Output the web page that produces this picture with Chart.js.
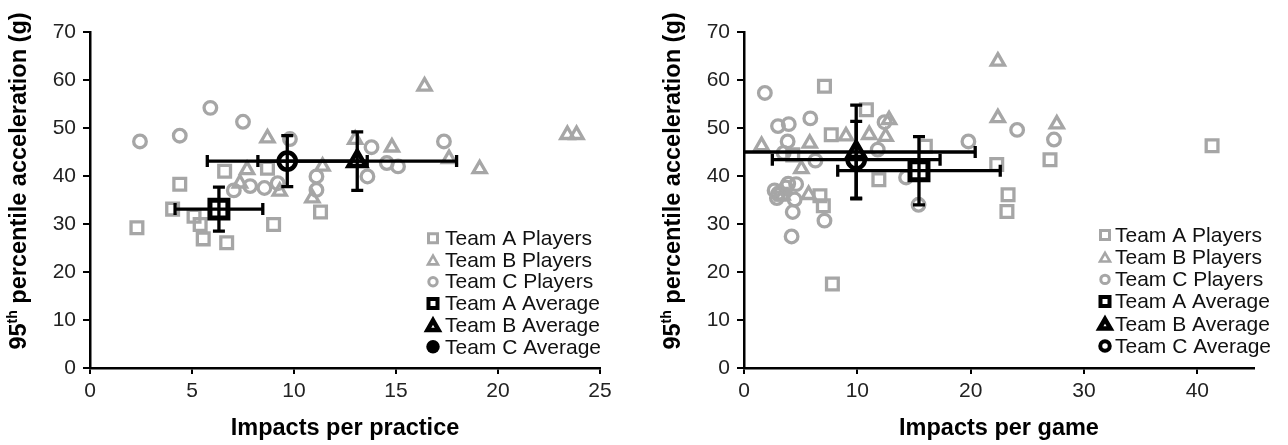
<!DOCTYPE html>
<html>
<head>
<meta charset="utf-8">
<script src="https://cdn.jsdelivr.net/npm/chart.js@4"></script>
<style>
  html, body { margin: 0; padding: 0; background: #fff; }
  #wrap { position: relative; width: 1288px; height: 445px; overflow: hidden; }
  canvas { position: absolute; top: 0; }
  #practice { left: 0; }
  #game { left: 644px; }
</style>
</head>
<body>
<div id="wrap">
  <canvas id="practice" width="644" height="445"></canvas>
  <canvas id="game" width="644" height="445"></canvas>
</div>
<script>
// ---- data: impacts per session vs. 95th percentile acceleration (g) ----
const legendLabels = ['Team A Players', 'Team B Players', 'Team C Players',
                      'Team A Average', 'Team B Average', 'Team C Average'];
const yTicks = [0, 10, 20, 30, 40, 50, 60, 70];
const practiceTicks = [0, 5, 10, 15, 20, 25];
const gameTicks = [0, 10, 20, 30, 40];

// practices
const practiceTeamA = [
  {x: 2.3, y: 29.2}, {x: 4.05, y: 33.1}, {x: 4.4, y: 38.3}, {x: 5.1, y: 31.6},
  {x: 5.4, y: 29.9}, {x: 5.55, y: 26.9}, {x: 6.6, y: 41.0}, {x: 6.7, y: 26.1},
  {x: 8.7, y: 41.6}, {x: 9.0, y: 29.9}, {x: 11.3, y: 32.5}
];
const practiceTeamB = [
  {x: 7.35, y: 38.5}, {x: 7.7, y: 41.3}, {x: 8.7, y: 47.9}, {x: 9.3, y: 36.8},
  {x: 10.9, y: 35.4}, {x: 11.4, y: 42.0}, {x: 13.0, y: 47.6}, {x: 14.8, y: 46.0},
  {x: 16.4, y: 58.7}, {x: 17.6, y: 43.6}, {x: 19.1, y: 41.5}, {x: 23.4, y: 48.6},
  {x: 23.85, y: 48.6}
];
const practiceTeamC = [
  {x: 2.45, y: 47.2}, {x: 4.4, y: 48.4}, {x: 5.9, y: 54.2}, {x: 7.5, y: 51.3},
  {x: 9.8, y: 47.7}, {x: 7.05, y: 37.0}, {x: 7.85, y: 37.9}, {x: 8.55, y: 37.5},
  {x: 9.2, y: 38.5}, {x: 11.1, y: 39.9}, {x: 11.1, y: 37.1}, {x: 13.8, y: 46.0},
  {x: 13.6, y: 39.9}, {x: 14.55, y: 42.7}, {x: 15.1, y: 42.0}, {x: 17.35, y: 47.2}
];
// team means with one standard deviation in each direction
const practiceAverages = [
  {x: 6.32, y: 33.1, sdX: 2.15, sdY: 4.6},
  {x: 13.1, y: 43.1, sdX: 4.87, sdY: 6.1},
  {x: 9.67, y: 43.1, sdX: 3.92, sdY: 5.3}
];

// games
const gameTeamA = [
  {x: 7.1, y: 58.7}, {x: 7.7, y: 48.6}, {x: 4.3, y: 44.4}, {x: 3.3, y: 36.2},
  {x: 6.7, y: 35.9}, {x: 7.0, y: 33.8}, {x: 7.8, y: 17.5}, {x: 10.8, y: 53.8},
  {x: 11.9, y: 39.2}, {x: 16.0, y: 46.2}, {x: 22.3, y: 42.4}, {x: 23.3, y: 36.1},
  {x: 23.2, y: 32.6}, {x: 27.0, y: 43.4}, {x: 41.3, y: 46.3}
];
const gameTeamB = [
  {x: 1.55, y: 46.3}, {x: 5.8, y: 46.8}, {x: 5.06, y: 41.5}, {x: 5.7, y: 36.1},
  {x: 9.0, y: 48.3}, {x: 11.05, y: 48.6}, {x: 12.5, y: 48.2}, {x: 12.8, y: 51.7},
  {x: 22.4, y: 63.9}, {x: 22.4, y: 52.1}, {x: 27.6, y: 50.8}, {x: 3.4, y: 36.0}
];
const gameTeamC = [
  {x: 1.84, y: 57.3}, {x: 3.0, y: 50.4}, {x: 3.95, y: 50.8}, {x: 5.85, y: 52.0},
  {x: 3.85, y: 47.2}, {x: 6.3, y: 43.2}, {x: 3.5, y: 44.8}, {x: 4.6, y: 38.3},
  {x: 4.47, y: 35.1}, {x: 4.3, y: 32.5}, {x: 4.2, y: 27.4}, {x: 7.1, y: 30.7},
  {x: 12.4, y: 51.2}, {x: 11.8, y: 45.5}, {x: 14.3, y: 39.7}, {x: 15.4, y: 34.0},
  {x: 19.8, y: 47.2}, {x: 24.1, y: 49.6}, {x: 27.35, y: 47.6}, {x: 2.7, y: 37.0},
  {x: 3.0, y: 36.3}, {x: 3.7, y: 37.6}, {x: 3.9, y: 38.4}, {x: 2.9, y: 35.4}
];
const gameAverages = [
  {x: 15.44, y: 41.1, sdX: 7.17, sdY: 7.1},
  {x: 9.9, y: 45.0, sdX: 10.5, sdY: 9.75},
  {x: 9.9, y: 43.4, sdX: 7.4, sdY: 8.0}
];

// ---- styling ----
const GRAY = '#a6a6a6';
const INK = '#000000';
const FONT = "'Liberation Sans', Arial, Helvetica, sans-serif";
const NOFILL = 'rgba(0,0,0,0)';

function drawMarker(ctx, m, x, y) {
  ctx.save();
  ctx.beginPath();
  const s = m.size;
  if (m.style === 'rect') {
    ctx.rect(x - s / 2, y - s / 2, s, s);
  } else if (m.style === 'circle') {
    ctx.arc(x, y, s / 2, 0, Math.PI * 2);
  } else {
    const h = s * 0.87;
    ctx.moveTo(x, y - h / 2);
    ctx.lineTo(x + s / 2, y + h / 2);
    ctx.lineTo(x - s / 2, y + h / 2);
    ctx.closePath();
  }
  if (m.fill) { ctx.fillStyle = m.fill; ctx.fill(); }
  if (m.lw) { ctx.lineWidth = m.lw; ctx.strokeStyle = m.stroke; ctx.lineJoin = 'miter'; ctx.stroke(); }
  ctx.restore();
}

function drawErrorBars(chart, avgs) {
  const {ctx, chartArea: a} = chart;
  const xs = chart.scales.x, ys = chart.scales.y;
  const cap = 6;
  ctx.save();
  ctx.strokeStyle = INK;
  ctx.lineWidth = 3.3;
  avgs.forEach(p => {
    const cx = xs.getPixelForValue(p.x), cy = ys.getPixelForValue(p.y);
    const x0 = xs.getPixelForValue(p.x - p.sdX), x1 = xs.getPixelForValue(p.x + p.sdX);
    const y0 = ys.getPixelForValue(p.y - p.sdY), y1 = ys.getPixelForValue(p.y + p.sdY);
    ctx.beginPath();
    ctx.moveTo(Math.max(x0, a.left), cy);
    ctx.lineTo(Math.min(x1, a.right), cy);
    if (x0 >= a.left) { ctx.moveTo(x0, cy - cap); ctx.lineTo(x0, cy + cap); }
    if (x1 <= a.right) { ctx.moveTo(x1, cy - cap); ctx.lineTo(x1, cy + cap); }
    ctx.moveTo(cx, y0); ctx.lineTo(cx, y1);
    ctx.moveTo(cx - cap, y0); ctx.lineTo(cx + cap, y0);
    ctx.moveTo(cx - cap, y1); ctx.lineTo(cx + cap, y1);
    ctx.stroke();
  });
  ctx.restore();
}

function drawTitles(chart, cfg) {
  const ctx = chart.ctx;
  ctx.save();
  ctx.fillStyle = INK;
  ctx.textBaseline = 'middle';
  // vertical title with superscript "th"
  const big = 'bold 23.5px ' + FONT, small = 'bold 14px ' + FONT;
  const parts = [['95', big, 0], ['th', small, -7], [' percentile acceleration (g)', big, 0]];
  let total = 0;
  parts.forEach(p => { ctx.font = p[1]; p.push(ctx.measureText(p[0]).width); total += p[3]; });
  ctx.translate(cfg.yTitleX, cfg.yTitleY);
  ctx.rotate(-Math.PI / 2);
  ctx.textAlign = 'left';
  let cur = -total / 2;
  parts.forEach(p => { ctx.font = p[1]; ctx.fillText(p[0], cur, p[2]); cur += p[3]; });
  ctx.setTransform(1, 0, 0, 1, 0, 0);
  // horizontal title centred on the plot area
  const a = chart.chartArea;
  ctx.font = big;
  ctx.textAlign = 'center';
  ctx.fillText(cfg.xTitle, (a.left + a.right) / 2, cfg.xTitleY);
  ctx.restore();
}

function drawLegend(chart, cfg) {
  const ctx = chart.ctx;
  ctx.save();
  ctx.font = '21px ' + FONT;
  ctx.textBaseline = 'middle';
  ctx.textAlign = 'left';
  legendLabels.forEach((label, i) => {
    const y = cfg.legendTop + i * cfg.legendStep;
    drawMarker(ctx, cfg.legendMarkers[i], cfg.legendX, y);
    ctx.fillStyle = '#111';
    ctx.fillText(label, cfg.legendX + cfg.legendGap, y + 1);
  });
  ctx.restore();
}

function extras(cfg) {
  return {
    id: 'extras',
    afterDatasetsDraw(chart) {
      drawErrorBars(chart, cfg.averages);
      drawTitles(chart, cfg);
      drawLegend(chart, cfg);
    }
  };
}

function playerSet(label, data, style, radius, order) {
  return {
    label, data, pointStyle: style, pointRadius: radius, pointHoverRadius: radius,
    pointBorderWidth: 3.3, pointBorderColor: GRAY, pointBackgroundColor: NOFILL,
    showLine: false, order
  };
}

function averageSet(label, point, style, radius, border, fill, order) {
  return {
    label, data: [{x: point.x, y: point.y}], pointStyle: style, pointRadius: radius,
    pointHoverRadius: radius, pointBorderWidth: border, pointBorderColor: INK,
    pointBackgroundColor: fill, showLine: false, order
  };
}

function axes(xMax, xTicks, yWidth) {
  const tickFont = {family: FONT, size: 21};
  return {
    x: {
      type: 'linear', min: 0, max: xMax,
      afterBuildTicks: s => { s.ticks = xTicks.map(v => ({value: v})); },
      afterFit: s => { s.height = 77; },
      ticks: {font: tickFont, color: '#222', padding: 5, maxRotation: 0, autoSkip: false},
      grid: {drawOnChartArea: false, drawTicks: true, tickLength: 6, color: INK, lineWidth: 2},
      border: {color: INK, width: 2.5}
    },
    y: {
      type: 'linear', min: 0, max: 70,
      afterBuildTicks: s => { s.ticks = yTicks.map(v => ({value: v})); },
      afterFit: s => { s.width = yWidth; },
      ticks: {font: tickFont, color: '#222', padding: 7, autoSkip: false},
      grid: {drawOnChartArea: false, drawTicks: true, tickLength: 7, color: INK, lineWidth: 2},
      border: {color: INK, width: 2.5}
    }
  };
}

const grayLegend = [
  {style: 'rect', size: 9, lw: 3, stroke: GRAY},
  {style: 'triangle', size: 10, lw: 2.6, stroke: GRAY},
  {style: 'circle', size: 8.4, lw: 3, stroke: GRAY}
];

// left panel: practices
new Chart(document.getElementById('practice'), {
  type: 'scatter',
  data: {
    datasets: [
      averageSet('Team B Average', practiceAverages[1], 'triangle', 10, 4.5, '#fff', 0),
      averageSet('Team C Average', practiceAverages[2], 'circle', 8.6, 4.5, '#fff', 1),
      averageSet('Team A Average', practiceAverages[0], 'rect', 12.7, 5, '#fff', 2),
      playerSet('Team C Players', practiceTeamC, 'circle', 6.3, 3),
      playerSet('Team B Players', practiceTeamB, 'triangle', 7.6, 4),
      playerSet('Team A Players', practiceTeamA, 'rect', 8.3, 5)
    ]
  },
  options: {
    responsive: false, animation: false, events: [],
    layout: {padding: {top: 32, right: 44, bottom: 0, left: 0}},
    plugins: {legend: {display: false}, tooltip: {enabled: false}},
    scales: axes(25, practiceTicks, 90)
  },
  plugins: [extras({
    averages: practiceAverages,
    xTitle: 'Impacts per practice', xTitleY: 429,
    yTitleX: 20, yTitleY: 181,
    legendX: 433, legendGap: 12, legendTop: 238.3, legendStep: 21.7,
    legendMarkers: grayLegend.concat([
      {style: 'rect', size: 9, lw: 4, stroke: INK, fill: '#fff'},
      {style: 'triangle', size: 11, lw: 4.5, stroke: INK, fill: '#fff'},
      {style: 'circle', size: 13.5, fill: INK}
    ])
  })]
});

// right panel: games
new Chart(document.getElementById('game'), {
  type: 'scatter',
  data: {
    datasets: [
      averageSet('Team B Average', gameAverages[1], 'triangle', 10, 4.5, '#fff', 0),
      averageSet('Team C Average', gameAverages[2], 'circle', 8.6, 4.5, '#fff', 1),
      averageSet('Team A Average', gameAverages[0], 'rect', 12.7, 5, '#fff', 2),
      playerSet('Team C Players', gameTeamC, 'circle', 6.3, 3),
      playerSet('Team B Players', gameTeamB, 'triangle', 7.6, 4),
      playerSet('Team A Players', gameTeamA, 'rect', 8.3, 5)
    ]
  },
  options: {
    responsive: false, animation: false, events: [],
    layout: {padding: {top: 32, right: 34, bottom: 0, left: 0}},
    plugins: {legend: {display: false}, tooltip: {enabled: false}},
    scales: axes(45, gameTicks, 100)
  },
  plugins: [extras({
    averages: gameAverages,
    xTitle: 'Impacts per game', xTitleY: 429,
    yTitleX: 30, yTitleY: 181,
    legendX: 461, legendGap: 10, legendTop: 235, legendStep: 22.2,
    legendMarkers: grayLegend.concat([
      {style: 'rect', size: 9, lw: 4, stroke: INK, fill: '#fff'},
      {style: 'triangle', size: 11, lw: 4.5, stroke: INK, fill: '#fff'},
      {style: 'circle', size: 9.5, lw: 4, stroke: INK, fill: '#fff'}
    ])
  })]
});
</script>
</body>
</html>
